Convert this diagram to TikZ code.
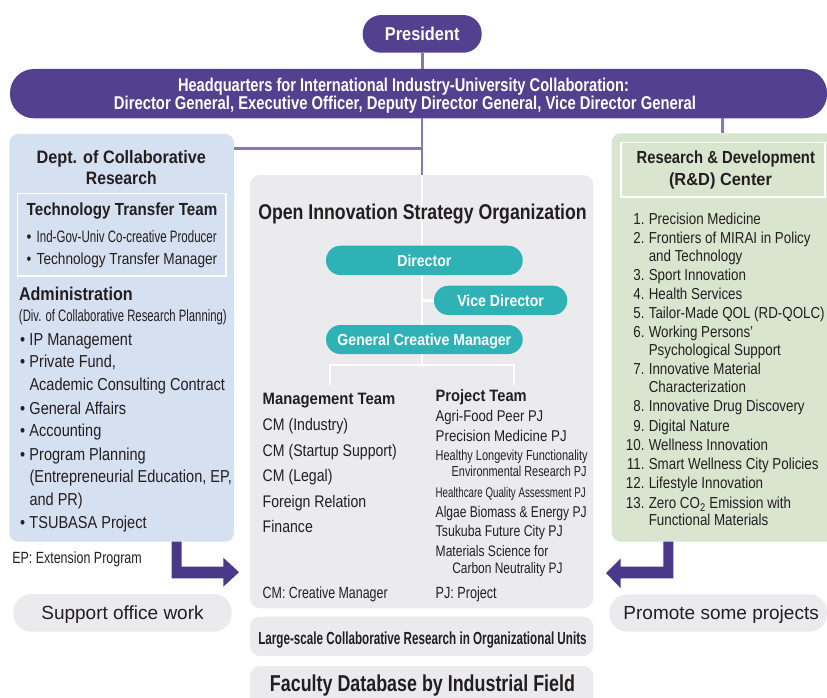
\documentclass[tikz,border=0pt]{standalone}
\usepackage{fontspec}
\usepackage{graphicx}
\setmainfont{Liberation Sans}[FakeStretch=0.84]
\newfontfamily\bcf{Liberation Sans}[FakeStretch=0.88]
\newfontfamily\nwf{Liberation Sans}
\newcommand\fw[2]{\resizebox{#1pt}{\height}{#2}}
\newcommand\fs[1]{\fontsize{#1}{#1}\selectfont}
\newcommand\mybul{\makebox[9.5pt][l]{•}}
\newcommand\myind{\hspace*{9.5pt}}
\newcommand\rn[1]{\makebox[18.5pt][r]{#1.}\hspace*{4.3pt}}
\newcommand\rind{\hspace*{22.8pt}}
\definecolor{purp}{HTML}{53418F}
\definecolor{arrowc}{HTML}{4A3889}
\definecolor{linec}{HTML}{8B76B5}
\definecolor{bluebg}{HTML}{D5E0F1}
\definecolor{greenbg}{HTML}{DAE5D0}
\definecolor{greybg}{HTML}{EBEBEE}
\definecolor{tealc}{HTML}{2FB2B6}
\definecolor{ink}{HTML}{231F20}
\begin{document}
\begin{tikzpicture}[x=1pt,y=-1pt,
  every node/.style={inner sep=0pt,outer sep=0pt,text=ink},
  tx/.style={anchor=base},
  txl/.style={anchor=base west},
  pl/.style={draw=linec,line width=2.6pt},
  wl/.style={draw=white,line width=2.6pt},
  pillp/.style={fill=purp,text=white,font=\bcf\bfseries\fs{18.6},text height=13.3pt,text depth=0pt},
  pillt/.style={fill=tealc,rounded corners=14.5pt,text=white,font=\bcf\bfseries\fs{16},text height=11.5pt,text depth=0pt},
  pillg/.style={fill=greybg,rounded corners=18pt,font=\nwf\fs{19},text height=13.6pt,text depth=0pt},
  panel/.style={rounded corners=9pt},
  wbox/.style={draw=white,line width=1.6pt},
  hdb/.style={font=\bcf\bfseries\fs{#1}},
  hdb/.default=17.5
]
\useasboundingbox (0,0) rectangle (827,698);
\clip (0,0) rectangle (827,698);

% ---------- top ----------
\node[pillp,rounded corners=18.5pt,minimum width=119pt,minimum height=37.7pt] (pres) at (422.2,33.9) {President};
\node[fill=purp,rounded corners=24pt,minimum width=817pt,minimum height=49.3pt] (hq) at (418.5,93.65) {};
\node[tx,text=white,hdb=18.5] (hq1) at (403.5,91.7) {\fw{451}{Headquarters for International Industry-University Collaboration:}};
\node[tx,text=white,hdb=18.5] (hq2) at (405,110) {\fw{582}{Director General, Executive Officer, Deputy Director General, Vice Director General}};

% ---------- panels ----------
\node[panel,fill=bluebg,minimum width=224.7pt,minimum height=407.7pt] (dept) at (121.65,337.85) {};
\node[wbox,minimum width=208.7pt,minimum height=82.7pt] (ttbox) at (121.65,234.65) {};
\node[panel,fill=greybg,rounded corners=10pt,minimum width=343.3pt,minimum height=433.3pt] (oi) at (421.65,391.65) {};
\node[panel,fill=greybg,rounded corners=10pt,minimum width=343.3pt,minimum height=39.3pt] (lg) at (421.65,636.35) {};
\node[panel,fill=greybg,rounded corners=10pt,minimum width=343.3pt,minimum height=48pt] (fac) at (421.65,690) {};
\node[panel,fill=greenbg,minimum width=228.3pt,minimum height=408.4pt] (rd) at (725.85,337.5) {};
\node[wbox,minimum width=204.3pt,minimum height=54pt] (rdbox) at (722.85,169.7) {};
\node[pillg,minimum width=218.4pt,minimum height=37.7pt] (sow) at (122.5,612.85) {Support office work};
\node[pillg,minimum width=217.7pt,minimum height=37.4pt] (psp) at (718.15,613) {\hspace*{6pt}Promote some projects};

% ---------- purple connectors ----------
\coordinate (sp) at (422,365);
\coordinate (jn) at (422,148.3);
\coordinate (rx) at (722.3,0);
\draw[pl] (pres.south) -- (pres.south |- hq.north);
\draw[pl] (hq.south -| sp) -- (oi.north -| sp);
\draw[pl] (dept.east |- jn) -- (jn);
\draw[pl] (hq.south -| rx) -- (rd.north -| rx);

% ---------- open innovation organization ----------
\draw[wl] (oi.north -| sp) -- (sp);
\node[pillt,minimum width=196.7pt,minimum height=29.3pt] (dir) at (424.35,260.35) {Director};
\node[pillt,minimum width=133.3pt,minimum height=29.3pt] (vice) at (500.65,300.35) {Vice Director};
\node[pillt,minimum width=196.7pt,minimum height=29pt] (gcm) at (424.35,339.5) {General Creative Manager};
\draw[wl] (sp |- vice.west) -- (vice.west);
\coordinate (mg) at (330,385);
\coordinate (pj) at (514,385);
\draw[wl] (mg) -- (mg |- sp) -- (pj |- sp) -- (pj);
\node[tx,hdb=21.4] (oit) at (422.5,219) {\fw{328.4}{Open Innovation Strategy Organization}};

\node[txl,hdb=16.5] (mgt) at (262.7,404.5) {\fw{132.6}{Management Team}};
\foreach \yy/\lbl [count=\i] in {430.5/{CM (Industry)},456/{CM (Startup Support)},481.7/{CM (Legal)},507.3/{Foreign Relation},532.7/{Finance}}
  \node[txl,font=\fs{16.8}] (m\i) at (262.7,\yy) {\lbl};
\node[txl,hdb=16.5] (pjt) at (435.7,401) {\fw{91}{Project Team}};
\foreach \xx/\yy/\ww/\sz/\lbl [count=\i] in {
  435.7/421.7/107.6/15.6/{Agri-Food Peer PJ},
  435.7/441/131/15.6/{Precision Medicine PJ},
  435.7/460.7/152/14.5/{Healthy Longevity Functionality},
  451.7/476.7/135/14.5/{Environmental Research PJ},
  435.7/497.7/150/14/{Healthcare Quality Assessment PJ},
  435.7/517.3/151/15.6/{Algae Biomass \& Energy PJ},
  435.7/536.7/127/15.6/{Tsukuba Future City PJ},
  435.7/556.7/112.6/15.2/{Materials Science for},
  452.3/573.3/110.4/15.2/{Carbon Neutrality PJ}}
  \node[txl,font=\fs{\sz}] (p\i) at (\xx,\yy) {\fw{\ww}{\lbl}};
\node[txl,font=\fs{16.2}] (cmn) at (262.7,598.3) {\fw{125}{CM: Creative Manager}};
\node[txl,font=\fs{16.2}] (pjn) at (435.7,598.3) {\fw{61}{PJ: Project}};
\node[tx,hdb=17.5] (lgt) at (422.5,644) {\fw{328.4}{Large-scale Collaborative Research in Organizational Units}};
\node[tx,hdb=23] (fact) at (422.5,691.7) {\fw{305}{Faculty Database by Industrial Field}};

% ---------- left panel ----------
\node[tx,hdb=18] (dt1) at (121.3,163.3) {\fw{169.3}{Dept. of Collaborative}};
\node[tx,hdb=18] (dt2) at (121.3,184.3) {\fw{70.7}{Research}};
\node[tx,hdb=17.5] (ttt) at (122,215) {\fw{190.6}{Technology Transfer Team}};
\node[txl,font=\fs{16.5}] (tb1) at (26.7,242) {\makebox[10pt][l]{•}\fw{180}{Ind-Gov-Univ Co-creative Producer}};
\node[txl,font=\fs{16}] (tb2) at (26.7,264) {\makebox[10pt][l]{•}\fw{180.6}{Technology Transfer Manager}};
\node[txl,hdb=18.5] (adm) at (19,300.5) {\fw{113.7}{Administration}};
\node[txl,font=\fs{16.5}] (div) at (19,321) {\fw{207.7}{(Div. of Collaborative Research Planning)}};
\foreach \yy/\lbl [count=\i] in {345/{\mybul IP Management},367.5/{\mybul Private Fund,},390.5/{\myind Academic Consulting Contract},414/{\mybul General Affairs},436.5/{\mybul Accounting},460/{\mybul Program Planning},482.5/{\myind (Entrepreneurial Education, EP,},505.5/{\myind and PR)},528/{\mybul TSUBASA Project}}
  \node[txl,font=\fs{17.3}] (a\i) at (20,\yy) {\lbl};
\node[txl,font=\fs{16.2}] (ep) at (12.3,563) {\fw{129.4}{EP: Extension Program}};

% ---------- right panel ----------
\node[tx,hdb=17.5] (rd1) at (725.8,163.5) {\fw{178.3}{Research \& Development}};
\node[tx,hdb=17.5] (rd2) at (720.5,185.5) {\fw{103}{(R\&D) Center}};
\foreach \yy/\lbl [count=\i] in {224.5/{\rn{1}Precision Medicine},243.3/{\rn{2}Frontiers of MIRAI in Policy},261/{\rind and Technology},280.5/{\rn{3}Sport Innovation},299.5/{\rn{4}Health Services},318.5/{\rn{5}Tailor-Made QOL (RD-QOLC)},337/{\rn{6}Working Persons’},355/{\rind Psychological Support},374.5/{\rn{7}Innovative Material},392.5/{\rind Characterization},411.5/{\rn{8}Innovative Drug Discovery},431/{\rn{9}Digital Nature},450/{\rn{10}Wellness Innovation},469.5/{\rn{11}Smart Wellness City Policies},488.5/{\rn{12}Lifestyle Innovation},508.5/{\rn{13}Zero CO\textsubscript{2} Emission with},525.7/{\rind Functional Materials}}
  \node[txl,font=\fs{15.9}] (r\i) at (626,\yy) {\lbl};

% ---------- arrows ----------
\coordinate (la) at (171.7,0);
\fill[arrowc] (dept.south -| la) -- ++(10,0) -- (181.7,566.7) -- (223.3,566.7) -- (223.3,557.7) -- (239,572.2) -- (223.3,586.7) -- (223.3,578.3) -- (171.7,578.3) -- cycle;
\coordinate (ra) at (673.3,0);
\fill[arrowc] (rd.south -| ra) -- (673.3,578.3) -- (620.7,578.3) -- (620.7,588.3) -- (606,573) -- (620.7,558.3) -- (620.7,566.7) -- (663.3,566.7) -- (663.3,541.7) -- cycle;
\end{tikzpicture}
\end{document}
